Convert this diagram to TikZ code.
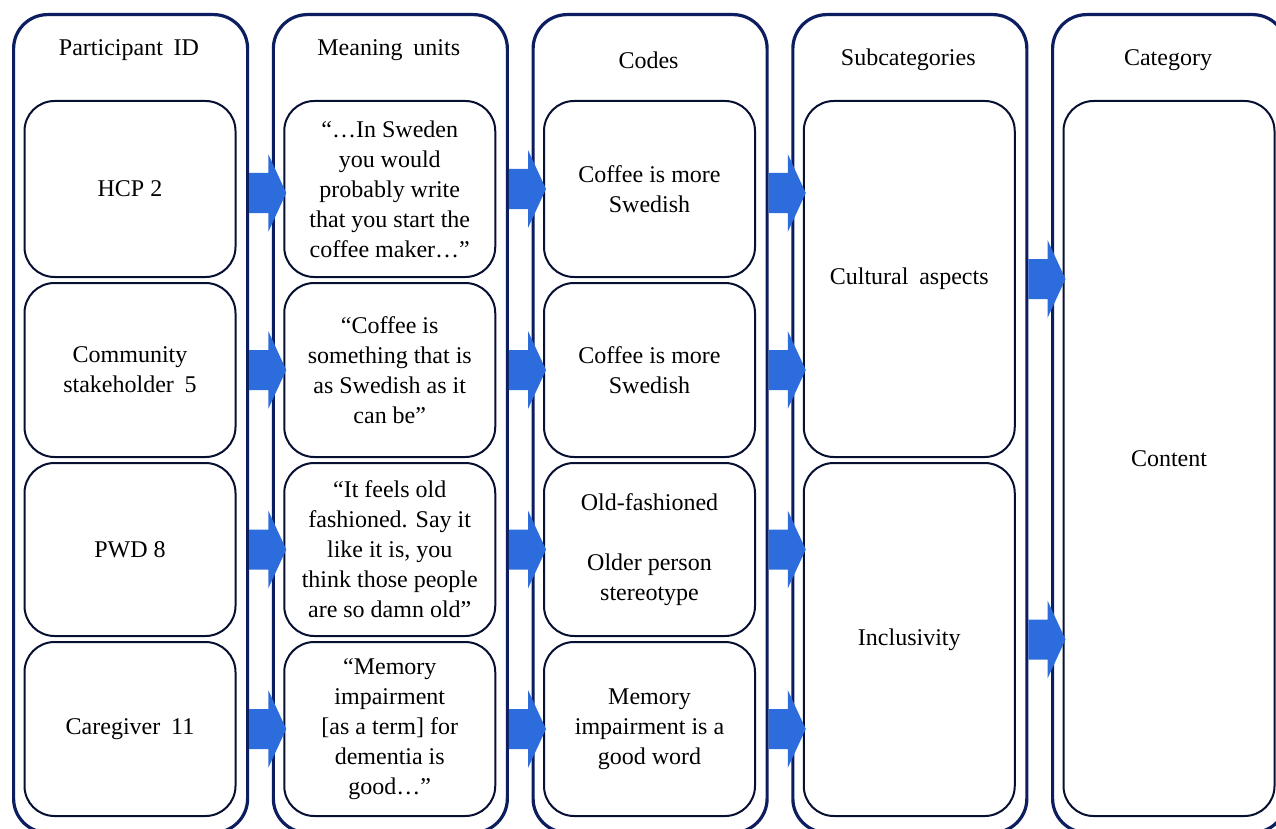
\documentclass[tikz,border=0pt]{standalone}
\usepackage{fontspec}
\setmainfont{Liberation Serif}
\usetikzlibrary{calc}
\definecolor{outerc}{RGB}{12,30,95}
\definecolor{innerc}{RGB}{8,16,50}
\definecolor{arrowc}{RGB}{45,108,220}
\newcommand{\wsp}{\hspace{0.45em}}
\newcommand{\blockarr}[2]{%
  \fill[arrowc] ($#1+(0,-20)$) -- ($#2+(-15,-20)$) -- ($#2+(-15,-39)$) -- ($#2+(3,0)$)
    -- ($#2+(-15,39)$) -- ($#2+(-15,20)$) -- ($#1+(0,20)$) -- cycle;}
\begin{document}
\begin{tikzpicture}[x=1pt,y=-1pt,
  outerbox/.style={draw=outerc,line width=3.2pt,rounded corners=34pt,anchor=north west,
    inner sep=0pt,minimum width=234pt,minimum height=818pt},
  innerbox/.style={draw=innerc,line width=2pt,rounded corners=30pt,anchor=north west,
    inner sep=0pt,minimum width=211pt,align=center,
    font=\fontsize{24}{30}\selectfont},
  head/.style={font=\fontsize{24}{30}\selectfont,inner sep=0pt}
]
\useasboundingbox (0,0) rectangle (1276,829);
\clip (0,0) rectangle (1276,829);
\fill[white] (0,0) rectangle (1276,829);

% outer columns
\node[outerbox] (O1) at (12,13) {};
\node[outerbox] (O2) at (271.75,13) {};
\node[outerbox] (O3) at (531.5,13) {};
\node[outerbox] (O4) at (791.25,13) {};
\node[outerbox] (O5) at (1051,13) {};

% headers
\node[head] (H1) at (129,50) {Participant\wsp ID};
\node[head] (H2) at (388.75,50) {Meaning\wsp units};
\node[head] (H3) at (648.5,60) {Codes};
\node[head] (H4) at (908.25,60) {Subcategories};
\node[head] (H5) at (1168,60) {Category};

% column 1
\node[innerbox,minimum height=176pt] (A1) at (23.5,100) {HCP 2};
\node[innerbox,minimum height=174pt] (A2) at (23.5,282) {Community\\stakeholder\wsp 5};
\node[innerbox,minimum height=173pt] (A3) at (23.5,462) {PWD 8};
\node[innerbox,minimum height=174pt] (A4) at (23.5,641) {Caregiver\wsp 11};

% column 2
\node[innerbox,minimum height=176pt] (B1) at (283.25,100) {“…In Sweden\\you would\\probably write\\that you start the\\coffee maker…”};
\node[innerbox,minimum height=174pt] (B2) at (283.25,282) {“Coffee is\\something that is\\as Swedish as it\\can be”};
\node[innerbox,minimum height=173pt] (B3) at (283.25,462) {“It feels old\\fashioned. Say it\\like it is, you\\think those people\\are so damn old”};
\node[innerbox,minimum height=174pt] (B4) at (283.25,641) {“Memory\\impairment\\{[as a term]} for\\dementia is\\good…”};

% column 3
\node[innerbox,minimum height=176pt] (C1) at (543,100) {Coffee is more\\Swedish};
\node[innerbox,minimum height=174pt] (C2) at (543,282) {Coffee is more\\Swedish};
\node[innerbox,minimum height=173pt] (C3) at (543,462) {Old-fashioned\\[30pt]Older person\\stereotype};
\node[innerbox,minimum height=174pt] (C4) at (543,641) {Memory\\impairment is a\\good word};

% column 4
\node[innerbox,minimum height=356pt] (S1) at (802.75,100) {Cultural\wsp aspects};
\node[innerbox,minimum height=353pt] (S2) at (802.75,462) {Inclusivity};

% column 5
\node[innerbox,minimum height=715pt] (K1) at (1062.5,100) {Content};

% arrows col1 -> col2
\blockarr{([yshift=-4pt]A1.center -| O1.east)}{([yshift=-4pt]A1.center -| B1.west)}
\blockarr{(A2.center -| O1.east)}{(A2.center -| B2.west)}
\blockarr{(A3.center -| O1.east)}{(A3.center -| B3.west)}
\blockarr{(A4.center -| O1.east)}{(A4.center -| B4.west)}
% arrows col2 -> col3
\blockarr{(B1.center -| O2.east)}{(B1.center -| C1.west)}
\blockarr{(B2.center -| O2.east)}{(B2.center -| C2.west)}
\blockarr{(B3.center -| O2.east)}{(B3.center -| C3.west)}
\blockarr{(B4.center -| O2.east)}{(B4.center -| C4.west)}
% arrows col3 -> col4
\blockarr{([yshift=-4pt]C1.center -| O3.east)}{([yshift=-4pt]C1.center -| S1.west)}
\blockarr{(C2.center -| O3.east)}{(C2.center -| S1.west)}
\blockarr{(C3.center -| O3.east)}{(C3.center -| S2.west)}
\blockarr{(C4.center -| O3.east)}{(C4.center -| S2.west)}
% arrows col4 -> col5
\blockarr{(S1.center -| O4.east)}{(S1.center -| K1.west)}
\blockarr{(S2.center -| O4.east)}{(S2.center -| K1.west)}
\end{tikzpicture}
\end{document}
